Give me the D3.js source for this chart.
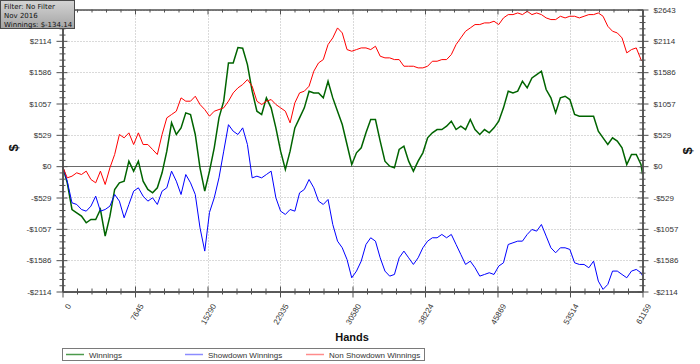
<!DOCTYPE html>
<html>
<head>
<meta charset="utf-8">
<script src="https://cdn.jsdelivr.net/npm/d3@7"></script>
<style>
  body { margin: 0; background: #fff; }
  text { font-family: "Liberation Sans", Arial, sans-serif; }
</style>
</head>
<body>
<div id="chart"></div>
<script>
// hands played (sample positions along the session)
var hands = [0,500,1000,1500,2000,2500,3000,3500,4000,4500,5000,5500,6000,6500,7000,7500,8000,8500,9000,9500,
  10000,10500,11000,11500,12000,12500,13000,13500,14000,14500,15000,15500,16000,16500,17000,17500,18000,18500,19000,19500,
  20000,20500,21000,21500,22000,22500,23000,23500,24000,24500,25000,25500,26000,26500,27000,27500,28000,28500,29000,29500,
  30000,30500,31000,31500,32000,32500,33000,33500,34000,34500,35000,35500,36000,36500,37000,37500,38000,38500,39000,39500,
  40000,40500,41000,41500,42000,42500,43000,43500,44000,44500,45000,45500,46000,46500,47000,47500,48000,48500,49000,49500,
  50000,50500,51000,51500,52000,52500,53000,53500,54000,54500,55000,55500,56000,56500,57000,57500,58000,58500,59000,59500,
  60000,60500,61000,61159];

// total winnings ($)
var winnings = [0,-281,-731,-787,-843,-955,-899,-899,-731,-1180,-843,-393,-281,-253,84,-84,84,-253,-393,-450,
  -365,-112,253,731,534,646,899,871,534,-28,-422,-84,309,815,1096,1742,1742,2000,1990,1714,
  1265,927,871,1152,984,646,253,-56,253,646,815,984,1265,1236,1236,1152,1433,1152,927,703,
  365,28,225,309,562,787,787,422,84,0,-28,281,337,84,-84,84,225,478,562,618,
  618,674,759,618,674,618,787,618,534,618,562,646,759,984,1265,1236,1265,1433,1321,1489,
  1546,1602,1293,1152,899,1152,1180,1124,871,843,843,843,843,590,478,365,478,422,309,28,
  197,197,28,-134];

// showdown winnings ($)
var showdown = [0,-253,-618,-646,-731,-759,-674,-506,-759,-731,-674,-478,-590,-871,-646,-422,-365,-506,-590,-534,
  -646,-422,-365,-84,-253,-478,-141,-281,-478,-1040,-1433,-780,-534,-197,253,700,590,534,646,365,
  -197,-169,-197,-141,-84,-534,-759,-815,-731,-759,-450,-393,-225,-365,-590,-646,-562,-984,-1265,-1377,
  -1574,-1883,-1770,-1602,-1321,-1208,-1265,-1546,-1770,-1855,-1827,-1546,-1433,-1546,-1658,-1546,-1377,-1265,-1208,-1208,
  -1152,-1208,-1152,-1321,-1489,-1658,-1602,-1714,-1855,-1827,-1798,-1827,-1686,-1630,-1321,-1293,-1265,-1265,-1152,-1068,
  -1096,-984,-1180,-1377,-1461,-1377,-1377,-1405,-1630,-1658,-1658,-1714,-1602,-1939,-2079,-1995,-1770,-1770,-1827,-1883,
  -1770,-1742,-1798,-1850];

// non showdown winnings ($)
var nonShowdown = [0,-197,-169,-112,-141,-84,-225,-281,-84,-309,-28,197,534,478,562,365,562,365,365,281,
  197,534,815,871,927,1152,1096,1096,1180,1040,955,843,927,955,984,1096,1236,1321,1377,1461,
  1349,1096,1040,1096,1124,1040,984,927,731,1068,1236,1265,1349,1602,1742,1798,2051,2164,2332,2248,
  1967,1939,1967,1995,1995,1967,2023,1855,1827,1827,1798,1798,1686,1686,1686,1658,1658,1686,1770,1770,
  1798,1798,1883,2051,2164,2276,2332,2389,2389,2417,2417,2445,2389,2501,2557,2557,2585,2557,2613,2557,
  2585,2557,2501,2473,2473,2529,2501,2529,2529,2501,2529,2557,2557,2585,2529,2360,2276,2248,2164,1911,
  1967,1995,1798,1770];

// axis ticks and labels
var xTicks = [0, 7645, 15290, 22935, 30580, 38224, 45869, 53514, 61159];
var yTicks = [-2114.4, -1585.8, -1057.2, -528.6, 0, 528.6, 1057.2, 1585.8, 2114.4, 2643];
var yTickLabels = ["-$2114", "-$1586", "-$1057", "-$529", "$0", "$529", "$1057", "$1586", "$2114", "$2643"];

var seriesNames = ["Winnings", "Showdown Winnings", "Non Showdown Winnings"];
var filterLines = ["Filter: No Filter", "Nov 2016", "Winnings: $-134.14"];

var width = 700, height = 364;
var plot = { left: 62.5, right: 642.5, top: 9.5, bottom: 291.5 };

var x = d3.scaleLinear().domain([0, 61159]).range([plot.left, plot.right]);
var y = d3.scaleLinear().domain([-2114.4, 2643]).range([plot.bottom, plot.top]);

var svg = d3.select("#chart").append("svg")
  .attr("width", width)
  .attr("height", height);

// minor ticks: 5 steps between each pair of major ticks
function minors(ticks) {
  var out = [];
  for (var i = 0; i < ticks.length - 1; i++) {
    var step = (ticks[i + 1] - ticks[i]) / 5;
    for (var k = 1; k < 5; k++) out.push(ticks[i] + k * step);
  }
  return out;
}
var xMinor = minors(xTicks), yMinor = minors(yTicks);

// dotted grid
svg.append("g").selectAll("line").data(yTicks.filter(function(d) { return d !== 0; }))
  .enter().append("line")
  .attr("x1", plot.left).attr("x2", plot.right)
  .attr("y1", function(d) { return Math.round(y(d)) + 0.5; })
  .attr("y2", function(d) { return Math.round(y(d)) + 0.5; })
  .style("stroke", "#b4b4b4").style("stroke-dasharray", "1,2");
svg.append("g").selectAll("line").data(xTicks.slice(1, -1))
  .enter().append("line")
  .attr("y1", plot.top).attr("y2", plot.bottom)
  .attr("x1", function(d) { return Math.round(x(d)) + 0.5; })
  .attr("x2", function(d) { return Math.round(x(d)) + 0.5; })
  .style("stroke", "#b4b4b4").style("stroke-dasharray", "1,2");

// zero line
svg.append("line")
  .attr("x1", plot.left).attr("x2", plot.right)
  .attr("y1", Math.round(y(0)) + 0.5).attr("y2", Math.round(y(0)) + 0.5)
  .style("stroke", "#6a6a6a");

// lines
var rows = hands.map(function(h, i) {
  return { h: h, w: winnings[i], s: showdown[i], n: nonShowdown[i] };
});
function lineFor(key) {
  return d3.line().x(function(d) { return x(d.h); }).y(function(d) { return y(d[key]); });
}
svg.append("path").datum(rows).attr("d", lineFor("w"))
  .style("fill", "none").style("stroke", "#006400").style("stroke-width", 1.5);
svg.append("path").datum(rows).attr("d", lineFor("s"))
  .style("fill", "none").style("stroke", "#0000ff").style("stroke-width", 1);
svg.append("path").datum(rows).attr("d", lineFor("n"))
  .style("fill", "none").style("stroke", "#ff0000").style("stroke-width", 1);

// axes
function styleAxis(g) {
  g.selectAll("path, line").style("stroke", "#505050");
  g.selectAll("text").style("fill", "#333").style("font-size", "8px")
    .style("font-family", "'Liberation Sans', Arial, sans-serif");
}
var fmtY = function(d) { return yTickLabels[yTicks.indexOf(d)]; };
// the filter box sits over the top-left label, so the left axis skips it
var fmtYLeft = function(d) { return d === 2643 ? "" : fmtY(d); };

// left
svg.append("g").attr("transform", "translate(" + plot.left + ",0)")
  .call(d3.axisLeft(y).tickValues(yTicks).tickFormat(fmtYLeft).tickSize(6).tickSizeOuter(0).tickPadding(5))
  .call(styleAxis);
svg.append("g").attr("transform", "translate(" + plot.left + ",0)")
  .call(d3.axisRight(y).tickValues(yTicks).tickFormat("").tickSize(5).tickSizeOuter(0)).call(styleAxis);
svg.append("g").attr("transform", "translate(" + plot.left + ",0)")
  .call(d3.axisLeft(y).tickValues(yMinor).tickFormat("").tickSize(3).tickSizeOuter(0)).call(styleAxis);
svg.append("g").attr("transform", "translate(" + plot.left + ",0)")
  .call(d3.axisRight(y).tickValues(yMinor).tickFormat("").tickSize(3).tickSizeOuter(0)).call(styleAxis);

// right
svg.append("g").attr("transform", "translate(" + plot.right + ",0)")
  .call(d3.axisRight(y).tickValues(yTicks).tickFormat(fmtY).tickSize(6).tickSizeOuter(0).tickPadding(5))
  .call(styleAxis);
svg.append("g").attr("transform", "translate(" + plot.right + ",0)")
  .call(d3.axisLeft(y).tickValues(yTicks).tickFormat("").tickSize(5).tickSizeOuter(0)).call(styleAxis);
svg.append("g").attr("transform", "translate(" + plot.right + ",0)")
  .call(d3.axisRight(y).tickValues(yMinor).tickFormat("").tickSize(3).tickSizeOuter(0)).call(styleAxis);
svg.append("g").attr("transform", "translate(" + plot.right + ",0)")
  .call(d3.axisLeft(y).tickValues(yMinor).tickFormat("").tickSize(3).tickSizeOuter(0)).call(styleAxis);

// top (ticks inward only)
svg.append("g").attr("transform", "translate(0," + plot.top + ")")
  .call(d3.axisBottom(x).tickValues(xTicks).tickFormat("").tickSize(5).tickSizeOuter(0)).call(styleAxis);
svg.append("g").attr("transform", "translate(0," + plot.top + ")")
  .call(d3.axisBottom(x).tickValues(xMinor).tickFormat("").tickSize(3).tickSizeOuter(0)).call(styleAxis);

// bottom
var xAxisG = svg.append("g").attr("transform", "translate(0," + plot.bottom + ")")
  .call(d3.axisBottom(x).tickValues(xTicks).tickFormat(d3.format("d")).tickSize(6).tickSizeOuter(0))
  .call(styleAxis);
xAxisG.selectAll("text")
  .attr("x", 0).attr("y", 0).attr("dy", "0.35em")
  .attr("text-anchor", "end")
  .attr("transform", "translate(6,13) rotate(-60)");
svg.append("g").attr("transform", "translate(0," + plot.bottom + ")")
  .call(d3.axisTop(x).tickValues(xTicks).tickFormat("").tickSize(5).tickSizeOuter(0)).call(styleAxis);
svg.append("g").attr("transform", "translate(0," + plot.bottom + ")")
  .call(d3.axisBottom(x).tickValues(xMinor).tickFormat("").tickSize(3).tickSizeOuter(0)).call(styleAxis);
svg.append("g").attr("transform", "translate(0," + plot.bottom + ")")
  .call(d3.axisTop(x).tickValues(xMinor).tickFormat("").tickSize(3).tickSizeOuter(0)).call(styleAxis);

// axis titles
svg.append("text")
  .attr("transform", "translate(" + 18 + "," + 148 + ") rotate(-90)")
  .attr("text-anchor", "middle")
  .style("font-size", "13px").style("font-weight", "bold").style("fill", "#111")
  .text("$");
svg.append("text")
  .attr("transform", "translate(" + 692 + "," + 151 + ") rotate(-90)")
  .attr("text-anchor", "middle")
  .style("font-size", "13px").style("font-weight", "bold").style("fill", "#111")
  .text("$");
svg.append("text")
  .attr("x", 352).attr("y", 341)
  .attr("text-anchor", "middle")
  .style("font-size", "11px").style("font-weight", "bold").style("fill", "#111")
  .text("Hands");

// legend
var legend = svg.append("g");
legend.append("rect")
  .attr("x", 62.5).attr("y", 348.5).attr("width", 362).attr("height", 12)
  .style("fill", "#fff").style("stroke", "#7a7a7a");
var legendColors = ["#4c9a4c", "#8c8cff", "#ff8c8c"];
var legendX = [66, 185, 306];
seriesNames.forEach(function(name, i) {
  legend.append("line")
    .attr("x1", legendX[i]).attr("x2", legendX[i] + 18)
    .attr("y1", 354.5).attr("y2", 354.5)
    .style("stroke", legendColors[i]).style("stroke-width", 1.5);
  legend.append("text")
    .attr("x", legendX[i] + 23).attr("y", 357.5)
    .style("font-size", "8px").style("fill", "#333")
    .text(name);
});

// filter box
var defs = svg.append("defs");
var grad = defs.append("linearGradient").attr("id", "boxGrad")
  .attr("x1", 0).attr("y1", 0).attr("x2", 0).attr("y2", 1);
grad.append("stop").attr("offset", "0%").attr("stop-color", "#d4d4d4");
grad.append("stop").attr("offset", "100%").attr("stop-color", "#a4a4a4");
svg.append("rect")
  .attr("x", 0.5).attr("y", 0.5).attr("width", 74).attr("height", 28)
  .style("fill", "url(#boxGrad)").style("stroke", "#4a4a4a");
filterLines.forEach(function(t, i) {
  svg.append("text")
    .attr("x", 4).attr("y", 9 + i * 9)
    .style("font-family", "'DejaVu Sans', sans-serif")
    .style("font-size", "7px").style("fill", "#111")
    .text(t);
});
</script>
</body>
</html>
